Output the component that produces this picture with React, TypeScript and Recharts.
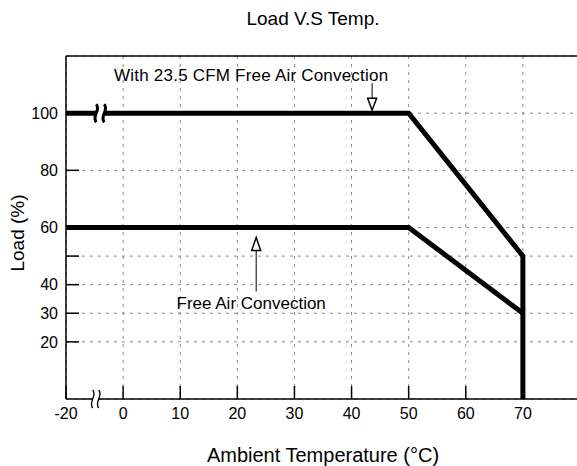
import { LineChart, Line, XAxis, YAxis, CartesianGrid, ReferenceLine, ReferenceDot } from 'recharts'

const FONT = '"Liberation Sans", Arial, Helvetica, sans-serif'

// derating curves: ambient temperature (°C) vs load (%)
const forcedTemps = [-20, 50, 70, 70]
const forcedLoads = [100, 100, 50, 0]
const freeTemps = [-20, 50, 70]
const freeLoads = [60, 60, 30]

const xTicks = [-20, 0, 10, 20, 30, 40, 50, 60, 70]
const yTicks = [20, 30, 40, 50, 60, 80, 100]
const yLabeled = [20, 30, 40, 60, 80, 100]

const notes = [
  { temp: 43.6, load: 100, text: 'With 23.5 CFM Free Air Convection', dir: 'down' },
  { temp: 23.3, load: 60, text: 'Free Air Convection', dir: 'up' },
]

// -20 sits one grid step left of 0, the axis is broken in between
const pos = (t: number) => (t < 0 ? -10 : t)
const LINE_BREAK_AT = -4
const AXIS_BREAK_AT = -4.8

const forced = forcedTemps.map((t, i) => ({ x: pos(t), load: forcedLoads[i] }))
const free = freeTemps.map((t, i) => ({ x: pos(t), load: freeLoads[i] }))

function Note({ cx, cy, note }: any) {
  if (note.dir === 'down') {
    return (
      <g>
        <line x1={cx} x2={cx} y1={cy - 30} y2={cy - 15} stroke="#000" strokeWidth={1} />
        <path
          d={`M${cx - 4.5},${cy - 15} L${cx + 4.5},${cy - 15} L${cx},${cy - 3} Z`}
          fill="#fff"
          stroke="#000"
          strokeWidth={1.5}
        />
        <text x={cx - 121} y={cy - 32} textAnchor="middle" fontSize={17} fill="#000"
          textLength={274} lengthAdjust="spacing">
          {note.text}
        </text>
      </g>
    )
  }
  return (
    <g>
      <line x1={cx} x2={cx} y1={cy + 23} y2={cy + 64} stroke="#000" strokeWidth={1} />
      <path
        d={`M${cx - 4.5},${cy + 23} L${cx + 4.5},${cy + 23} L${cx},${cy + 10} Z`}
        fill="#fff"
        stroke="#000"
        strokeWidth={1.5}
      />
      <text x={cx - 5} y={cy + 81} textAnchor="middle" fontSize={17} fill="#000">
        {note.text}
      </text>
    </g>
  )
}

function squiggle(x: number, cy: number, h: number) {
  const top = cy - h / 2
  return `M${x},${top} C${x + 5},${top + h / 3} ${x - 5},${top + (2 * h) / 3} ${x},${top + h}`
}

function BreakMark({ cx, cy, thick }: any) {
  const gap = thick ? 4 : 3
  const h = 18
  return (
    <g>
      <rect x={cx - gap} y={cy - (thick ? 4 : 2)} width={gap * 2} height={thick ? 8 : 4} fill="#fff" />
      <path d={squiggle(cx - gap, cy, h)} fill="none" stroke="#000" strokeWidth={thick ? 3 : 1.3} />
      <path d={squiggle(cx + gap, cy, h)} fill="none" stroke="#000" strokeWidth={thick ? 3 : 1.3} />
    </g>
  )
}

const tickStyle = { fill: '#000', fontSize: 16, fontFamily: FONT }

export default function App() {
  return (
    <div
      style={{
        position: 'fixed',
        left: 0,
        top: 0,
        width: 577,
        height: 466,
        overflow: 'hidden',
        background: '#fff',
        fontFamily: FONT,
      }}
    >
      <div
        style={{
          position: 'absolute',
          top: 8,
          left: 313,
          transform: 'translateX(-50%)',
          fontSize: 19,
          whiteSpace: 'nowrap',
          color: '#000',
        }}
      >
        Load V.S Temp.
      </div>
      <div
        style={{
          position: 'absolute',
          top: 233,
          left: 18,
          transform: 'translate(-50%, -50%) rotate(-90deg)',
          fontSize: 19,
          whiteSpace: 'nowrap',
          color: '#000',
        }}
      >
        Load (%)
      </div>
      <LineChart width={590} height={466} margin={{ top: 56, right: 0, bottom: 0, left: 0 }}>
        <CartesianGrid stroke="#8a8a8a" strokeDasharray="3 5" strokeWidth={1} />
        <XAxis
          dataKey="x"
          type="number"
          domain={[-10, 80]}
          ticks={xTicks.map(pos)}
          tickFormatter={(v) => (v === pos(-20) ? '-20' : String(v))}
          allowDataOverflow
          height={67}
          tickSize={-13}
          tickMargin={22}
          tick={tickStyle}
          axisLine={{ stroke: '#000', strokeWidth: 1.5 }}
          tickLine={{ stroke: '#000', strokeWidth: 1.5 }}
          label={{
            value: 'Ambient Temperature (°C)',
            position: 'insideBottom',
            offset: 4,
            fontSize: 20,
            fill: '#000',
            fontFamily: FONT,
          }}
        />
        <YAxis
          type="number"
          domain={[0, 120]}
          ticks={yTicks}
          tickFormatter={(v) => (yLabeled.includes(v) ? String(v) : '')}
          allowDataOverflow
          width={66}
          tickSize={-13}
          tickMargin={21}
          tick={tickStyle}
          axisLine={{ stroke: '#000', strokeWidth: 1.5 }}
          tickLine={{ stroke: '#000', strokeWidth: 1.5 }}
        />
        <YAxis
          yAxisId="r"
          orientation="right"
          type="number"
          domain={[0, 120]}
          ticks={yTicks}
          tickFormatter={() => ''}
          width={10}
          tickSize={-13}
          tick={tickStyle}
          axisLine={{ stroke: '#000', strokeWidth: 1.5 }}
          tickLine={{ stroke: '#000', strokeWidth: 1.5 }}
        />
        <ReferenceLine y={120} stroke="#000" strokeWidth={1.5} />
        <Line
          data={forced}
          dataKey="load"
          type="linear"
          stroke="#000"
          strokeWidth={5}
          strokeLinejoin="miter"
          strokeLinecap="butt"
          dot={false}
          activeDot={false}
          isAnimationActive={false}
        />
        <Line
          data={free}
          dataKey="load"
          type="linear"
          stroke="#000"
          strokeWidth={5}
          strokeLinejoin="miter"
          strokeLinecap="butt"
          dot={false}
          activeDot={false}
          isAnimationActive={false}
        />
        <ReferenceDot
          x={LINE_BREAK_AT}
          y={forcedLoads[0]}
          r={1}
          ifOverflow="visible"
          shape={(p: any) => <BreakMark {...p} thick />}
        />
        <ReferenceDot
          x={AXIS_BREAK_AT}
          y={0}
          r={1}
          ifOverflow="visible"
          shape={(p: any) => <BreakMark {...p} />}
        />
        {notes.map((n) => (
          <ReferenceDot
            key={n.text}
            x={pos(n.temp)}
            y={n.load}
            r={1}
            ifOverflow="visible"
            shape={(p: any) => <Note {...p} note={n} />}
          />
        ))}
      </LineChart>
    </div>
  )
}
